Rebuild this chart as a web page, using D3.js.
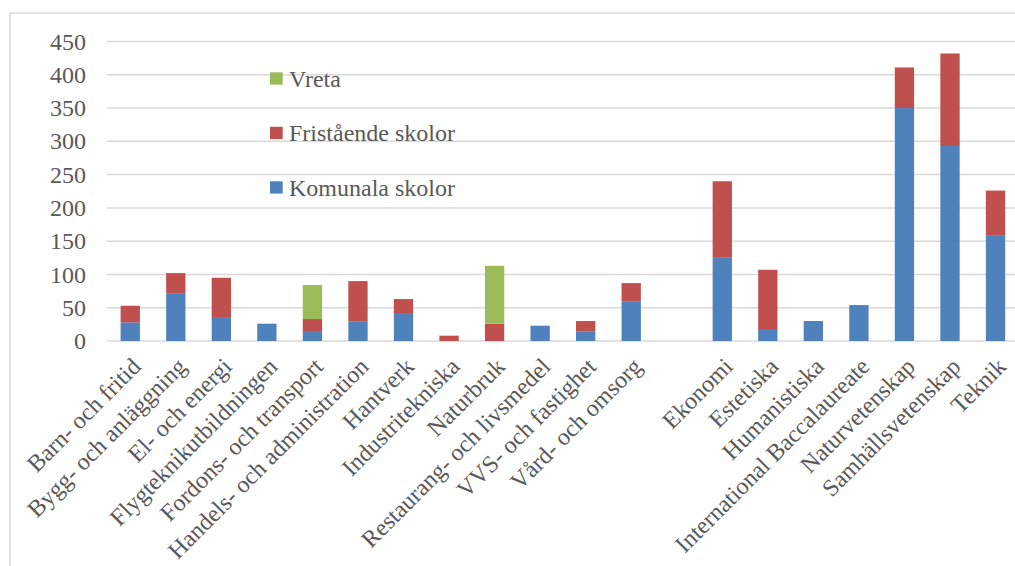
<!DOCTYPE html>
<html>
<head>
<meta charset="utf-8">
<script src="https://cdn.jsdelivr.net/npm/d3@7"></script>
<style>
  body { margin: 0; background: #fff; }
</style>
</head>
<body>
<svg id="chart"></svg>
<script>
// program names (empty slot separates vocational and academic programs)
const categories = [
    "Barn- och fritid", "Bygg- och anläggning", "El- och energi", "Flygteknikutbildningen",
    "Fordons- och transport", "Handels- och administration", "Hantverk", "Industritekniska",
    "Naturbruk", "Restaurang- och livsmedel", "VVS- och fastighet", "Vård- och omsorg",
    "",
    "Ekonomi", "Estetiska", "Humanistiska", "International Baccalaureate",
    "Naturvetenskap", "Samhällsvetenskap", "Teknik"
];
const komunala   = [28, 71, 36, 26, 15, 29, 42, 0, 0, 23, 14, 59, 0, 126, 18, 30, 54, 350, 293, 158];
const fristaende = [25, 31, 59, 0, 18, 61, 21, 8, 26, 0, 16, 28, 0, 114, 89, 0, 0, 61, 139, 68];
const vreta      = [0, 0, 0, 0, 51, 0, 0, 0, 87, 0, 0, 0, 0, 0, 0, 0, 0, 0, 0, 0];
const seriesNames = ["Komunala skolor", "Fristående skolor", "Vreta"];
const yTicks = [0, 50, 100, 150, 200, 250, 300, 350, 400, 450];

const width = 1015, height = 566;
const font = "'Liberation Serif', 'DejaVu Serif', serif";
const colors = { "Komunala skolor": "#4f81bd", "Fristående skolor": "#c0504d", "Vreta": "#9bbb59" };

const svg = d3.select("#chart").attr("width", width).attr("height", height);

// outer frame of the chart (cropped in the picture)
svg.append("rect")
    .attr("x", 10).attr("y", 13)
    .attr("width", width + 20).attr("height", height)
    .attr("fill", "none").attr("stroke", "#d9d9d9").attr("stroke-width", 1.5);

const x = d3.scaleBand()
    .domain(categories)
    .range([107.5, 1018.3])
    .paddingInner(0.576)
    .paddingOuter(0.288);

const y = d3.scaleLinear().domain([0, 450]).range([341, 41.5]);

// gridlines
svg.append("g").selectAll("line")
    .data(yTicks).enter()
    .append("line")
    .attr("x1", 107).attr("x2", width)
    .attr("y1", d => y(d)).attr("y2", d => y(d))
    .attr("stroke", "#d9d9d9").attr("stroke-width", 1.5);

// y tick labels
svg.append("g").selectAll("text")
    .data(yTicks).enter()
    .append("text")
    .attr("x", 86)
    .attr("y", d => y(d))
    .attr("dy", "0.34em")
    .attr("text-anchor", "end")
    .attr("font-family", font)
    .attr("font-size", 24)
    .attr("fill", "#595959")
    .text(d => d);

// stacked bars
const table = categories.map((c, i) => ({
    cat: c, "Komunala skolor": komunala[i], "Fristående skolor": fristaende[i], "Vreta": vreta[i]
}));
const stack = d3.stack().keys(seriesNames)(table);

svg.append("g").selectAll("g")
    .data(stack).enter()
    .append("g")
    .attr("fill", d => colors[d.key])
    .selectAll("rect")
    .data(d => d).enter()
    .append("rect")
    .attr("x", d => x(d.data.cat))
    .attr("y", d => y(d[1]))
    .attr("width", x.bandwidth())
    .attr("height", d => y(d[0]) - y(d[1]));

// x labels, rotated
svg.append("g").selectAll("text")
    .data(categories.filter(c => c !== "")).enter()
    .append("text")
    .attr("transform", d => "translate(" + (x(d) + x.bandwidth() / 2 + 6) + ",362) rotate(-45)")
    .attr("text-anchor", "end")
    .attr("dy", "0.35em")
    .attr("font-family", font)
    .attr("font-size", 24)
    .attr("fill", "#595959")
    .text(d => d);

// legend (reverse order like the original)
const legend = svg.append("g").selectAll("g")
    .data(seriesNames.slice().reverse()).enter()
    .append("g")
    .attr("transform", (d, i) => "translate(270," + (72.3 + i * 54.5) + ")");
legend.append("rect")
    .attr("width", 12.7).attr("height", 12.3)
    .attr("fill", d => colors[d]);
legend.append("text")
    .attr("x", 19).attr("y", 6)
    .attr("dy", "0.35em")
    .attr("font-family", font)
    .attr("font-size", 24)
    .attr("fill", "#595959")
    .text(d => d);
</script>
</body>
</html>
